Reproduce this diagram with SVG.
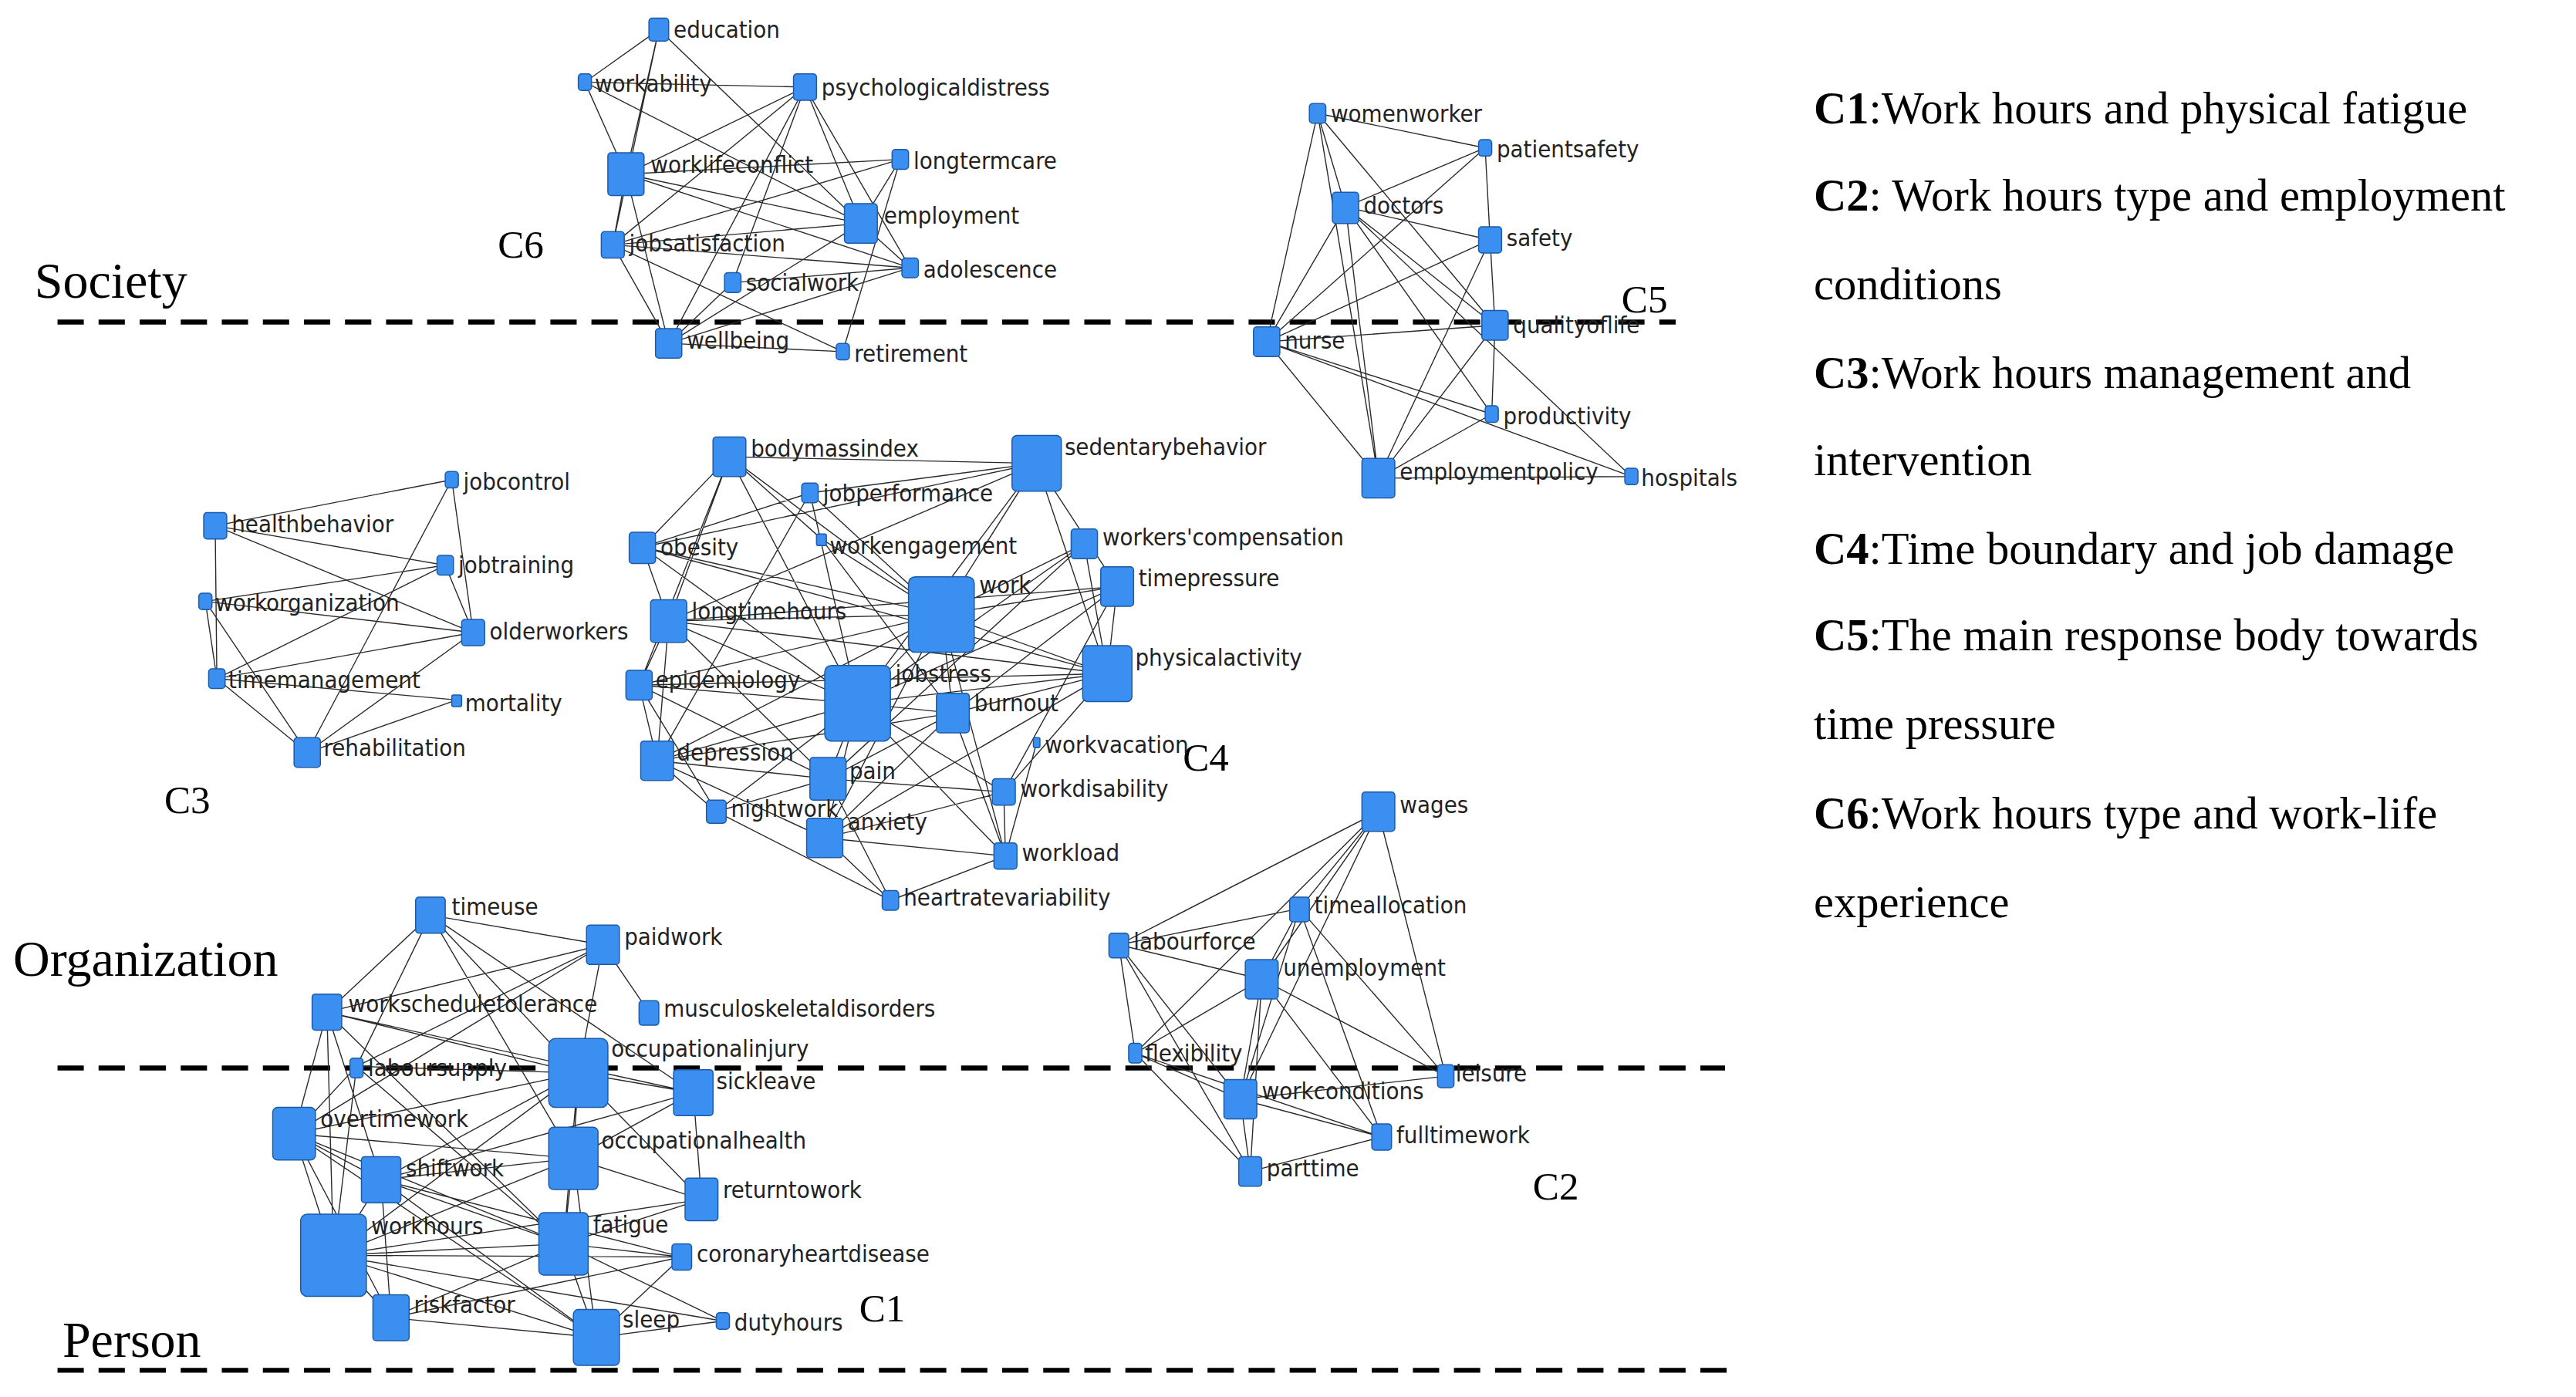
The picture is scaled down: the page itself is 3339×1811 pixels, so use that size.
<svg xmlns="http://www.w3.org/2000/svg" width="3339" height="1811" viewBox="0 0 3339 1811">
<style>
.n{fill:#3a8ff0;stroke:#1b5aa6;stroke-width:0.7}
.t{font-family:"DejaVu Sans Condensed","Liberation Sans",sans-serif;font-size:14.5px;fill:#222;font-stretch:condensed}
.e{fill:none;stroke:#2a2a2a;stroke-width:0.65}
.lv{font-family:"Liberation Serif",serif;font-size:31px;fill:#000}
.cl{font-family:"Liberation Serif",serif;font-size:24px;fill:#000}
.lg{font-family:"Liberation Serif",serif;font-size:27.5px;fill:#000}
.d{stroke:#000;stroke-width:3;stroke-dasharray:16 9}
</style>
<rect width="3339" height="1811" fill="#fff"/>
<g transform="scale(2.1295 2.13)">
<g id="levels">
<line class="d" x1="35" y1="196" x2="1020" y2="196"/>
<line class="d" x1="35" y1="650" x2="1050" y2="650"/>
<line class="d" x1="35" y1="834" x2="1055" y2="834"/>
<text class="lv" x="21" y="181">Society</text>
<text class="lv" x="8" y="594">Organization</text>
<text class="lv" x="38" y="826">Person</text>
<text class="cl" x="303" y="157">C6</text>
<text class="cl" x="987" y="190">C5</text>
<text class="cl" x="100" y="495">C3</text>
<text class="cl" x="720" y="469">C4</text>
<text class="cl" x="933" y="730">C2</text>
<text class="cl" x="523" y="804">C1</text>
</g>
<g id="legend">
<text class="lg" x="1104" y="75"><tspan font-weight="bold">C1</tspan>:Work hours and physical fatigue</text>
<text class="lg" x="1104" y="128"><tspan font-weight="bold">C2</tspan>: Work hours type and employment</text>
<text class="lg" x="1104" y="182">conditions</text>
<text class="lg" x="1104" y="236"><tspan font-weight="bold">C3</tspan>:Work  hours management and</text>
<text class="lg" x="1104" y="289">intervention</text>
<text class="lg" x="1104" y="343"><tspan font-weight="bold">C4</tspan>:Time boundary and job damage</text>
<text class="lg" x="1104" y="396"><tspan font-weight="bold">C5</tspan>:The main response body towards</text>
<text class="lg" x="1104" y="450">time pressure</text>
<text class="lg" x="1104" y="504"><tspan font-weight="bold">C6</tspan>:Work hours type and work-life</text>
<text class="lg" x="1104" y="558">experience</text>
</g>
<g id="connectors">
<path class="e" d="M401 18L356 50M401 18L381 106M401 18L524 136M401 18L373 149M356 50L381 106M356 50L490 53M356 50L524 136M490 53L381 106M490 53L373 149M490 53L524 136M490 53L554 163M490 53L407 209M490 53L446 172M381 106L548 97M381 106L524 136M381 106L554 163M381 106L407 209M381 106L373 149M548 97L524 136M548 97L373 149M548 97L513 214M524 136L373 149M524 136L407 209M524 136L554 163M373 149L407 209M373 149L513 214M373 149L554 163M446 172L554 163M446 172L407 209M407 209L513 214M407 209L554 163"/>
<path class="e" d="M802 69L771 208M802 69L819 126M802 69L839 291M802 69L904 90M802 69L910 198M904 90L819 126M904 90L907 146M904 90L771 208M819 126L907 146M819 126L771 208M819 126L839 291M819 126L910 198M819 126L908 252M819 126L993 290M907 146L910 198M907 146L839 291M907 146L771 208M771 208L910 198M771 208L839 291M771 208L908 252M771 208L993 290M910 198L839 291M910 198L908 252M908 252L839 291M839 291L993 290"/>
<path class="e" d="M131 320L275 292M131 320L271 344M131 320L132 413M131 320L288 385M275 292L288 385M275 292L187 458M125 366L271 344M125 366L288 385M125 366L132 413M125 366L187 458M132 413L288 385M132 413L278 426M132 413L187 458M132 413L271 344M271 344L288 385M187 458L278 426M187 458L288 385"/>
<path class="e" d="M444 278L631 282M444 278L391 333M444 278L407 378M444 278L389 417M444 278L573 374M444 278L522 428M444 278L500 328M631 282L493 300M631 282L573 374M631 282L522 428M631 282L674 410M631 282L680 357M631 282L407 378M631 282L391 333M493 300L522 428M493 300L391 333M493 300L400 463M493 300L573 374M391 333L573 374M391 333L407 378M391 333L674 410M391 333L522 428M500 328L573 374M500 328L580 434M660 331L573 374M660 331L522 428M660 331L674 410M660 331L504 474M680 357L573 374M680 357L522 428M680 357L407 378M680 357L580 434M680 357L674 410M680 357L611 482M407 378L573 374M407 378L522 428M407 378L400 463M407 378L389 417M407 378L674 410M407 378L504 474M573 374L522 428M573 374L674 410M573 374L580 434M573 374L389 417M573 374L400 463M573 374L502 510M573 374L612 521M674 410L522 428M674 410L580 434M674 410L389 417M674 410L611 482M674 410L502 510M389 417L522 428M389 417L400 463M389 417L504 474M389 417L436 494M522 428L580 434M522 428L400 463M522 428L504 474M522 428L502 510M522 428L611 482M522 428L612 521M522 428L436 494M580 434L504 474M580 434L612 521M580 434L502 510M580 434L400 463M400 463L504 474M400 463L436 494M400 463L502 510M504 474L611 482M504 474L436 494M504 474L542 548M611 482L612 521M611 482L502 510M502 510L612 521M502 510L542 548M612 521L542 548M436 494L542 548M631 452L612 521"/>
<path class="e" d="M262 557L367 575M262 557L199 616M262 557L217 649M262 557L352 653M262 557L349 705M262 557L422 665M367 575L199 616M367 575L352 653M367 575L395 616M367 575L217 649M367 575L179 690M199 616L179 690M199 616L203 764M199 616L232 718M199 616L352 653M199 616L422 665M199 616L343 757M217 649L179 690M217 649L203 764M217 649L352 653M217 649L343 757M352 653L422 665M352 653L349 705M352 653L232 718M352 653L203 764M352 653L179 690M352 653L427 730M352 653L343 757M422 665L349 705M422 665L427 730M422 665L232 718M179 690L232 718M179 690L203 764M179 690L349 705M179 690L343 757M179 690L238 802M179 690L363 814M349 705L232 718M349 705L203 764M349 705L343 757M349 705L427 730M349 705L363 814M232 718L203 764M232 718L343 757M232 718L363 814M232 718L415 765M232 718L238 802M427 730L343 757M427 730L203 764M203 764L343 757M203 764L415 765M203 764L238 802M203 764L363 814M203 764L440 804M343 757L415 765M343 757L363 814M343 757L238 802M343 757L440 804M238 802L363 814M238 802L415 765M363 814L440 804M363 814L415 765"/>
<path class="e" d="M839 494L791 553M839 494L681 575M839 494L768 596M839 494L691 641M839 494L755 669M839 494L880 655M791 553L681 575M791 553L768 596M791 553L880 655M791 553L755 669M791 553L841 692M681 575L768 596M681 575L691 641M681 575L755 669M681 575L761 713M768 596L691 641M768 596L880 655M768 596L755 669M768 596L761 713M768 596L841 692M691 641L755 669M691 641L761 713M691 641L841 692M755 669L841 692M755 669L761 713M755 669L880 655M761 713L841 692"/>
</g>
<g id="c6">
<g id="education"><rect class="n" x="395" y="11" width="12" height="14" rx="2"/><text class="t" x="410" y="23">education</text></g>
<g id="workability"><rect class="n" x="352" y="45" width="8" height="10" rx="2"/><text class="t" x="362" y="56">workability</text></g>
<g id="psychologicaldistress"><rect class="n" x="483" y="45" width="14" height="16" rx="2"/><text class="t" x="500" y="58">psychologicaldistress</text></g>
<g id="worklifeconflict"><rect class="n" x="370" y="93" width="22" height="26" rx="2"/><text class="t" x="396" y="105">worklifeconflict</text></g>
<g id="longtermcare"><rect class="n" x="543" y="91" width="10" height="12" rx="2"/><text class="t" x="556" y="103">longtermcare</text></g>
<g id="employment"><rect class="n" x="514" y="124" width="20" height="24" rx="2"/><text class="t" x="538" y="136">employment</text></g>
<g id="jobsatisfaction"><rect class="n" x="366" y="141" width="14" height="16" rx="2"/><text class="t" x="383" y="153">jobsatisfaction</text></g>
<g id="adolescence"><rect class="n" x="549" y="157" width="10" height="12" rx="2"/><text class="t" x="562" y="169">adolescence</text></g>
<g id="socialwork"><rect class="n" x="441" y="166" width="10" height="12" rx="2"/><text class="t" x="454" y="177">socialwork</text></g>
<g id="wellbeing"><rect class="n" x="399" y="200" width="16" height="18" rx="2"/><text class="t" x="418" y="212">wellbeing</text></g>
<g id="retirement"><rect class="n" x="509" y="209" width="8" height="10" rx="2"/><text class="t" x="520" y="220">retirement</text></g>
</g>
<g id="c5">
<g id="womenworker"><rect class="n" x="797" y="63" width="10" height="12" rx="2"/><text class="t" x="810" y="74">womenworker</text></g>
<g id="patientsafety"><rect class="n" x="900" y="85" width="8" height="10" rx="2"/><text class="t" x="911" y="96">patientsafety</text></g>
<g id="doctors"><rect class="n" x="811" y="117" width="16" height="19" rx="2"/><text class="t" x="830" y="130">doctors</text></g>
<g id="safety"><rect class="n" x="900" y="138" width="14" height="16" rx="2"/><text class="t" x="917" y="150">safety</text></g>
<g id="qualityoflife"><rect class="n" x="902" y="189" width="16" height="18" rx="2"/><text class="t" x="921" y="203">qualityoflife</text></g>
<g id="nurse"><rect class="n" x="763" y="199" width="16" height="18" rx="2"/><text class="t" x="782" y="212">nurse</text></g>
<g id="productivity"><rect class="n" x="904" y="247" width="8" height="10" rx="2"/><text class="t" x="915" y="258">productivity</text></g>
<g id="employmentpolicy"><rect class="n" x="829" y="279" width="20" height="24" rx="2"/><text class="t" x="852" y="292">employmentpolicy</text></g>
<g id="hospitals"><rect class="n" x="989" y="285" width="8" height="10" rx="2"/><text class="t" x="999" y="296">hospitals</text></g>
</g>
<g id="c3">
<g id="jobcontrol"><rect class="n" x="271" y="287" width="8" height="10" rx="2"/><text class="t" x="282" y="298">jobcontrol</text></g>
<g id="healthbehavior"><rect class="n" x="124" y="312" width="14" height="16" rx="2"/><text class="t" x="141" y="324">healthbehavior</text></g>
<g id="jobtraining"><rect class="n" x="266" y="338" width="10" height="12" rx="2"/><text class="t" x="279" y="349">jobtraining</text></g>
<g id="workorganization"><rect class="n" x="121" y="361" width="8" height="10" rx="2"/><text class="t" x="131" y="372">workorganization</text></g>
<g id="olderworkers"><rect class="n" x="281" y="377" width="14" height="16" rx="2"/><text class="t" x="298" y="389">olderworkers</text></g>
<g id="timemanagement"><rect class="n" x="127" y="407" width="10" height="12" rx="2"/><text class="t" x="139" y="419">timemanagement</text></g>
<g id="mortality"><rect class="n" x="275" y="423" width="6" height="7" rx="1"/><text class="t" x="283" y="433">mortality</text></g>
<g id="rehabilitation"><rect class="n" x="179" y="449" width="16" height="18" rx="2"/><text class="t" x="197" y="460">rehabilitation</text></g>
</g>
<g id="c4">
<g id="bodymassindex"><rect class="n" x="434" y="266" width="20" height="24" rx="2"/><text class="t" x="457" y="278">bodymassindex</text></g>
<g id="sedentarybehavior"><rect class="n" x="616" y="265" width="30" height="34" rx="3"/><text class="t" x="648" y="277">sedentarybehavior</text></g>
<g id="jobperformance"><rect class="n" x="488" y="294" width="10" height="12" rx="2"/><text class="t" x="501" y="305">jobperformance</text></g>
<g id="obesity"><rect class="n" x="383" y="324" width="16" height="19" rx="2"/><text class="t" x="402" y="338">obesity</text></g>
<g id="workengagement"><rect class="n" x="497" y="325" width="6" height="7" rx="1"/><text class="t" x="505" y="337">workengagement</text></g>
<g id="workerscompensation"><rect class="n" x="652" y="322" width="16" height="18" rx="2"/><text class="t" x="671" y="332">workers'compensation</text></g>
<g id="timepressure"><rect class="n" x="670" y="345" width="20" height="24" rx="2"/><text class="t" x="693" y="357">timepressure</text></g>
<g id="longtimehours"><rect class="n" x="396" y="365" width="22" height="26" rx="2"/><text class="t" x="421" y="377">longtimehours</text></g>
<g id="work"><rect class="n" x="553" y="351" width="40" height="46" rx="4"/><text class="t" x="596" y="361">work</text></g>
<g id="physicalactivity"><rect class="n" x="659" y="393" width="30" height="34" rx="3"/><text class="t" x="691" y="405">physicalactivity</text></g>
<g id="epidemiology"><rect class="n" x="381" y="408" width="16" height="18" rx="2"/><text class="t" x="399" y="419">epidemiology</text></g>
<g id="jobstress"><rect class="n" x="502" y="405" width="40" height="46" rx="4"/><text class="t" x="545" y="415">jobstress</text></g>
<g id="burnout"><rect class="n" x="570" y="422" width="20" height="24" rx="2"/><text class="t" x="593" y="433">burnout</text></g>
<g id="workvacation"><rect class="n" x="629" y="449" width="4" height="6" rx="1"/><text class="t" x="636" y="458">workvacation</text></g>
<g id="depression"><rect class="n" x="390" y="451" width="20" height="24" rx="2"/><text class="t" x="412" y="463">depression</text></g>
<g id="pain"><rect class="n" x="493" y="461" width="22" height="26" rx="2"/><text class="t" x="517" y="474">pain</text></g>
<g id="workdisability"><rect class="n" x="604" y="474" width="14" height="16" rx="2"/><text class="t" x="621" y="485">workdisability</text></g>
<g id="nightwork"><rect class="n" x="430" y="487" width="12" height="14" rx="2"/><text class="t" x="445" y="497">nightwork</text></g>
<g id="anxiety"><rect class="n" x="491" y="498" width="22" height="24" rx="2"/><text class="t" x="516" y="505">anxiety</text></g>
<g id="workload"><rect class="n" x="605" y="513" width="14" height="16" rx="2"/><text class="t" x="622" y="524">workload</text></g>
<g id="heartratevariability"><rect class="n" x="537" y="542" width="10" height="12" rx="2"/><text class="t" x="550" y="551">heartratevariability</text></g>
</g>
<g id="c1">
<g id="timeuse"><rect class="n" x="253" y="546" width="18" height="22" rx="2"/><text class="t" x="275" y="557">timeuse</text></g>
<g id="paidwork"><rect class="n" x="357" y="563" width="20" height="24" rx="2"/><text class="t" x="380" y="575">paidwork</text></g>
<g id="workscheduletolerance"><rect class="n" x="190" y="605" width="18" height="22" rx="2"/><text class="t" x="212" y="616">workscheduletolerance</text></g>
<g id="musculoskeletaldisorders"><rect class="n" x="389" y="609" width="12" height="15" rx="2"/><text class="t" x="404" y="619">musculoskeletaldisorders</text></g>
<g id="laboursupply"><rect class="n" x="213" y="644" width="8" height="12" rx="2"/><text class="t" x="224" y="655">laboursupply</text></g>
<g id="occupationalinjury"><rect class="n" x="334" y="632" width="36" height="42" rx="4"/><text class="t" x="372" y="643">occupationalinjury</text></g>
<g id="sickleave"><rect class="n" x="410" y="651" width="24" height="28" rx="2"/><text class="t" x="436" y="663">sickleave</text></g>
<g id="overtimework"><rect class="n" x="166" y="674" width="26" height="32" rx="3"/><text class="t" x="195" y="686">overtimework</text></g>
<g id="occupationalhealth"><rect class="n" x="334" y="686" width="30" height="38" rx="3"/><text class="t" x="366" y="699">occupationalhealth</text></g>
<g id="shiftwork"><rect class="n" x="220" y="704" width="24" height="28" rx="2"/><text class="t" x="247" y="716">shiftwork</text></g>
<g id="returntowork"><rect class="n" x="417" y="717" width="20" height="26" rx="2"/><text class="t" x="440" y="729">returntowork</text></g>
<g id="workhours"><rect class="n" x="183" y="739" width="40" height="50" rx="4"/><text class="t" x="226" y="751">workhours</text></g>
<g id="fatigue"><rect class="n" x="328" y="738" width="30" height="38" rx="3"/><text class="t" x="361" y="750">fatigue</text></g>
<g id="coronaryheartdisease"><rect class="n" x="409" y="757" width="12" height="16" rx="2"/><text class="t" x="424" y="768">coronaryheartdisease</text></g>
<g id="riskfactor"><rect class="n" x="227" y="788" width="22" height="28" rx="2"/><text class="t" x="252" y="799">riskfactor</text></g>
<g id="sleep"><rect class="n" x="349" y="797" width="28" height="34" rx="3"/><text class="t" x="379" y="808">sleep</text></g>
<g id="dutyhours"><rect class="n" x="436" y="799" width="8" height="10" rx="2"/><text class="t" x="447" y="810">dutyhours</text></g>
</g>
<g id="c2">
<g id="wages"><rect class="n" x="829" y="482" width="20" height="24" rx="2"/><text class="t" x="852" y="495">wages</text></g>
<g id="timeallocation"><rect class="n" x="785" y="546" width="12" height="15" rx="2"/><text class="t" x="800" y="556">timeallocation</text></g>
<g id="labourforce"><rect class="n" x="675" y="568" width="12" height="15" rx="2"/><text class="t" x="690" y="578">labourforce</text></g>
<g id="unemployment"><rect class="n" x="758" y="584" width="20" height="24" rx="2"/><text class="t" x="781" y="594">unemployment</text></g>
<g id="flexibility"><rect class="n" x="687" y="635" width="8" height="12" rx="2"/><text class="t" x="697" y="646">flexibility</text></g>
<g id="leisure"><rect class="n" x="875" y="648" width="10" height="14" rx="2"/><text class="t" x="886" y="658">leisure</text></g>
<g id="workconditions"><rect class="n" x="745" y="657" width="20" height="24" rx="2"/><text class="t" x="768" y="669">workconditions</text></g>
<g id="fulltimework"><rect class="n" x="835" y="684" width="12" height="16" rx="2"/><text class="t" x="850" y="696">fulltimework</text></g>
<g id="parttime"><rect class="n" x="754" y="704" width="14" height="18" rx="2"/><text class="t" x="771" y="716">parttime</text></g>
</g>
</g>
</svg>
